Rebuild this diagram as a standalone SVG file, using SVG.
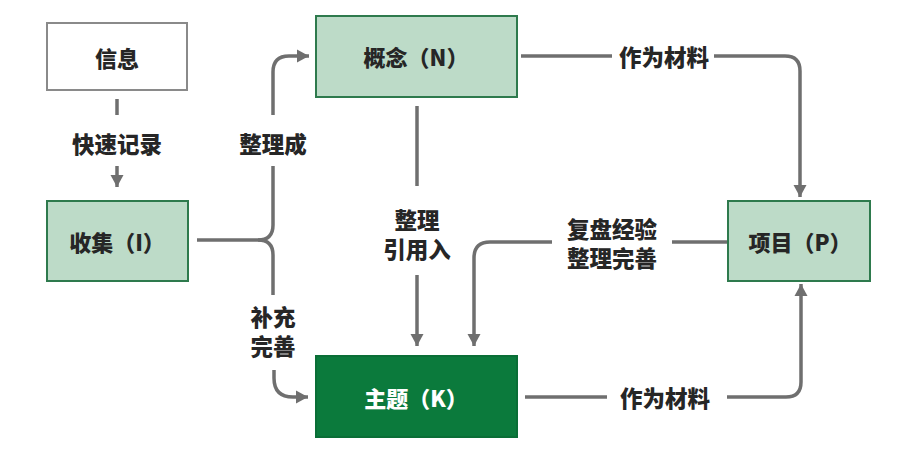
<svg xmlns="http://www.w3.org/2000/svg" width="906" height="463" viewBox="0 0 906 463">
<defs>
<style>
text{font-family:"Noto Sans CJK SC","Noto Sans",sans-serif;font-weight:900;text-anchor:middle;dominant-baseline:central}
.lbl{font-size:22.5px;fill:#262626}
.nt{font-size:22px;fill:#262626}
.box{fill:#bddbc8;stroke:#2e7a4d;stroke-width:2}
.con path{fill:none;stroke:#6f6f6f;stroke-width:3.5}
</style>
<marker id="ah" markerUnits="userSpaceOnUse" markerWidth="14" markerHeight="14" viewBox="0 0 14 14" refX="12" refY="7" orient="auto">
<path d="M0,0.5 L12,7 L0,13.5 z" fill="#6f6f6f"/>
</marker>
</defs>
<rect width="906" height="463" fill="#ffffff"/>
<g class="con" id="connectors">
<path d="M117,99 V115"/>
<path d="M117,166 V187" marker-end="url(#ah)"/>
<path d="M197,240 H258 Q273,240 273,225 V166"/>
<path d="M273,115 V72 Q273,56 289,56 H309" marker-end="url(#ah)"/>
<path d="M258,240 Q273,240 273,255 V295"/>
<path d="M274,370 V378 Q274,397 293,397 H308" marker-end="url(#ah)"/>
<path d="M417,106 V186"/>
<path d="M417,275 V346" marker-end="url(#ah)"/>
<path d="M728,242 H672"/>
<path d="M552,242 H490 Q474,242 474,258 V346" marker-end="url(#ah)"/>
<path d="M521,56 H612"/>
<path d="M714,56 H785 Q800,56 800,71 V197" marker-end="url(#ah)"/>
<path d="M525,397 H607"/>
<path d="M727,397 H786 Q801,397 801,382 V284" marker-end="url(#ah)"/>
</g>
<g id="labels">
<text class="lbl" x="117" y="143">快速记录</text>
<text class="lbl" x="273" y="143">整理成</text>
<text class="lbl" x="273" y="316">补充<tspan x="273" dy="29">完善</tspan></text>
<text class="lbl" x="417" y="219">整理<tspan x="417" dy="29">引用入</tspan></text>
<text class="lbl" x="612" y="228">复盘经验<tspan x="612" dy="29">整理完善</tspan></text>
<text class="lbl" x="664" y="56">作为材料</text>
<text class="lbl" x="665" y="397">作为材料</text>
</g>
<g id="node-info">
<rect x="47" y="23" width="140" height="67" fill="#ffffff" stroke="#8a8a8a" stroke-width="2"/>
<text class="nt" x="117" y="57">信息</text>
</g>
<g id="node-collect">
<rect class="box" x="47" y="201" width="141" height="80"/>
<text class="nt" x="117" y="241">收集（I）</text>
</g>
<g id="node-concept">
<rect class="box" x="316" y="16" width="201" height="81"/>
<text class="nt" x="416" y="56">概念（N）</text>
</g>
<g id="node-project">
<rect class="box" x="728" y="201" width="142" height="80"/>
<text class="nt" x="800" y="241">项目（P）</text>
</g>
<g id="node-topic">
<rect x="316" y="356" width="201" height="81" fill="#0b7a3c" stroke="#0a6e36" stroke-width="2"/>
<text class="nt" x="416" y="397" style="fill:#ffffff">主题（K）</text>
</g>
</svg>
